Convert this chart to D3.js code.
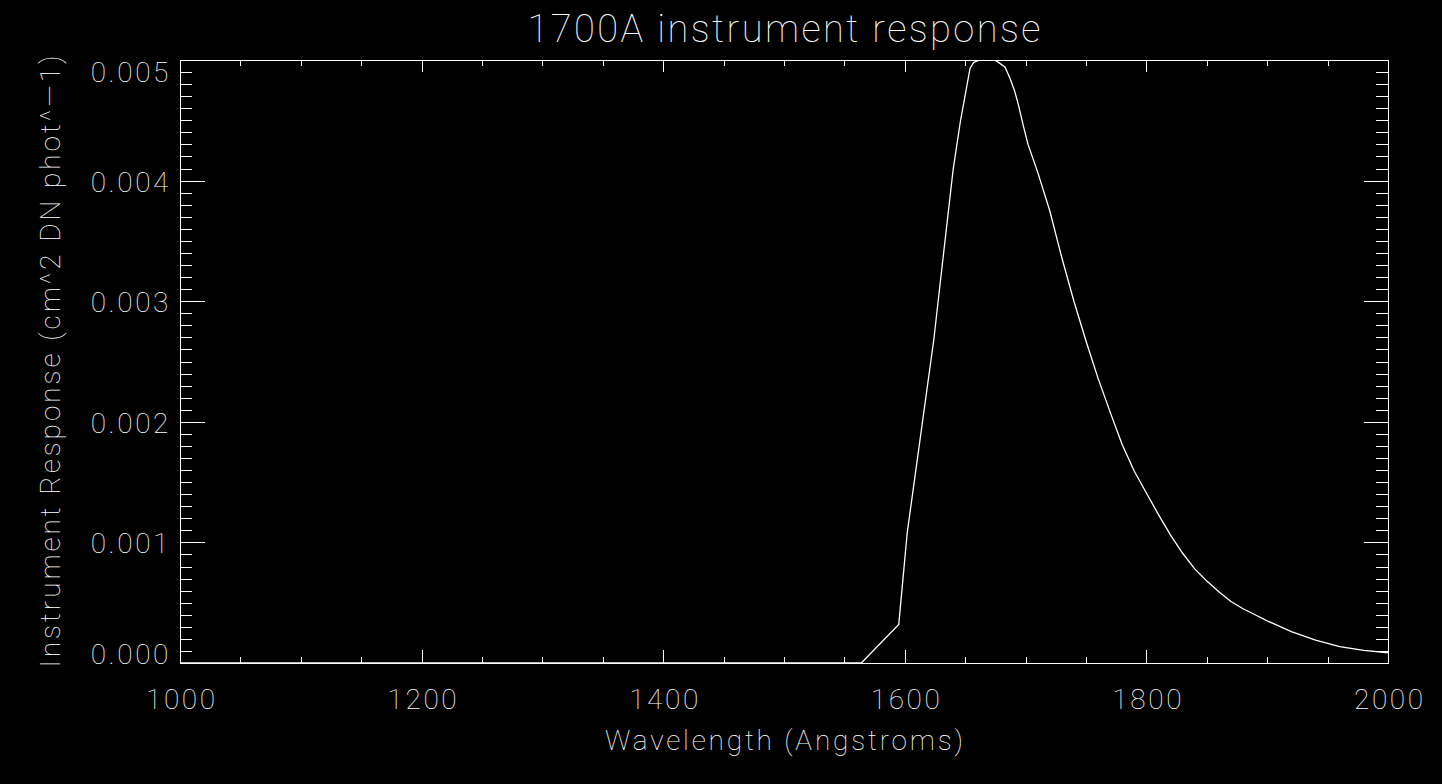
<!DOCTYPE html>
<html>
<head>
<meta charset="utf-8">
<script src="https://cdn.jsdelivr.net/npm/d3@7"></script>
<style>
  body { margin: 0; background: #000; }
  svg { display: block; background: #000; }
  text { fill: #fff; font-family: "Roboto", "DejaVu Sans", sans-serif; font-weight: 100; }
  .axis path, .axis line { stroke: #fff; stroke-width: 1; shape-rendering: crispEdges; }
  .axis text { font-size: 28px; letter-spacing: 2.6px; }
</style>
</head>
<body>
<div class="chart"></div>
<script>
// values
var wavelength = [1000, 1564, 1595, 1602, 1624, 1631, 1640, 1646, 1654, 1657, 1662, 1667, 1673,
  1679, 1683, 1687, 1691, 1694, 1698, 1702, 1710, 1720, 1730, 1740, 1750, 1760, 1770, 1780,
  1790, 1800, 1810, 1820, 1830, 1840, 1850, 1860, 1870, 1880, 1890, 1900, 1920, 1940, 1960,
  1980, 2000];
var response = [0, 0, 0.00032, 0.00108, 0.00268, 0.00330, 0.00409, 0.00449, 0.00493, 0.00498,
  0.00500, 0.00502, 0.00501, 0.00497, 0.00494, 0.00485, 0.00474, 0.00463, 0.00446, 0.00430,
  0.00407, 0.00375, 0.00336, 0.00300, 0.00267, 0.00236, 0.00208, 0.00181, 0.00159, 0.00141,
  0.00123, 0.00106, 0.00091, 0.00078, 0.00068, 0.00059, 0.00051, 0.00045, 0.00040, 0.00035,
  0.00026, 0.00019, 0.000135, 0.000104, 0.000085];

var xMajor = [1000, 1200, 1400, 1600, 1800, 2000];
var xMinor = d3.range(1000, 2001, 50);
var yMajor = [0, 0.001, 0.002, 0.003, 0.004, 0.005];
var yMinor = d3.range(0, 51).map(d => d / 10000);

var titleText = "1700A instrument response";
var xTitle = "Wavelength (Angstroms)";
var yTitle = "Instrument Response (cm^2 DN phot^—1)";

var svgWidth = 1442;
var svgHeight = 784;
var margin = { top: 60, right: 54, bottom: 121, left: 180 };
var width = svgWidth - margin.left - margin.right;
var height = svgHeight - margin.top - margin.bottom;

var svg = d3.select(".chart")
  .append("svg")
  .attr("width", svgWidth)
  .attr("height", svgHeight);

var chartGroup = svg.append("g")
  .attr("transform", `translate(${margin.left}, ${margin.top})`);

var xScale = d3.scaleLinear().domain([1000, 2000]).range([0, width]);
var yScale = d3.scaleLinear().domain([0, 0.005]).range([height, 0]);

// curve, clipped to the plot box
svg.append("clipPath").attr("id", "plotClip")
  .append("rect").attr("width", width).attr("height", height);

var lineData = wavelength.map((w, i) => ({ w: w, r: response[i] }));
var line = d3.line().x(d => xScale(d.w)).y(d => yScale(d.r));

chartGroup.append("path")
  .datum(lineData)
  .attr("clip-path", "url(#plotClip)")
  .attr("d", line)
  .attr("fill", "none")
  .attr("stroke", "#fff")
  .attr("stroke-width", 1.3);

// minor ticks first, on all four sides
chartGroup.append("g").attr("class", "axis")
  .attr("transform", `translate(0, ${height})`)
  .call(d3.axisBottom(xScale).tickValues(xMinor).tickSize(-6).tickSizeOuter(0).tickFormat(""));
chartGroup.append("g").attr("class", "axis")
  .call(d3.axisTop(xScale).tickValues(xMinor).tickSize(-6).tickSizeOuter(0).tickFormat(""));
chartGroup.append("g").attr("class", "axis")
  .call(d3.axisLeft(yScale).tickValues(yMinor).tickSize(-12).tickSizeOuter(0).tickFormat(""));
chartGroup.append("g").attr("class", "axis")
  .attr("transform", `translate(${width}, 0)`)
  .call(d3.axisRight(yScale).tickValues(yMinor).tickSize(-12).tickSizeOuter(0).tickFormat(""));

// major ticks with labels
var xAxis = chartGroup.append("g").attr("class", "axis")
  .attr("transform", `translate(0, ${height})`)
  .call(d3.axisBottom(xScale).tickValues(xMajor).tickSize(-13).tickSizeOuter(0).tickFormat(d3.format("d")));
xAxis.selectAll("text").attr("y", 46).attr("dy", null).attr("dx", 1.3);

chartGroup.append("g").attr("class", "axis")
  .call(d3.axisTop(xScale).tickValues(xMajor).tickSize(-12).tickSizeOuter(0).tickFormat(""));

var yAxis = chartGroup.append("g").attr("class", "axis")
  .call(d3.axisLeft(yScale).tickValues(yMajor).tickSize(-25).tickSizeOuter(0).tickPadding(9).tickFormat(d3.format(".3f")));
// keep end labels inside the frame the way IDL does
yAxis.selectAll("text")
  .attr("dy", null)
  .attr("y", d => Math.min(Math.max(10.5, 21 - yScale(d)), height - yScale(d)));

chartGroup.append("g").attr("class", "axis")
  .attr("transform", `translate(${width}, 0)`)
  .call(d3.axisRight(yScale).tickValues(yMajor).tickSize(-24).tickSizeOuter(0).tickFormat(""));

// titles
svg.append("text")
  .attr("x", margin.left + width / 2)
  .attr("y", 42)
  .attr("text-anchor", "middle")
  .attr("font-size", 38)
  .attr("textLength", 513)
  .attr("lengthAdjust", "spacing")
  .text(titleText);

svg.append("text")
  .attr("x", margin.left + width / 2)
  .attr("y", 750)
  .attr("text-anchor", "middle")
  .attr("font-size", 28)
  .attr("textLength", 358)
  .attr("lengthAdjust", "spacing")
  .text(xTitle);

svg.append("text")
  .attr("transform", `translate(60, ${margin.top + height / 2}) rotate(-90)`)
  .attr("text-anchor", "middle")
  .attr("font-size", 28)
  .attr("textLength", 612)
  .attr("lengthAdjust", "spacing")
  .text(yTitle);
</script>
</body>
</html>
